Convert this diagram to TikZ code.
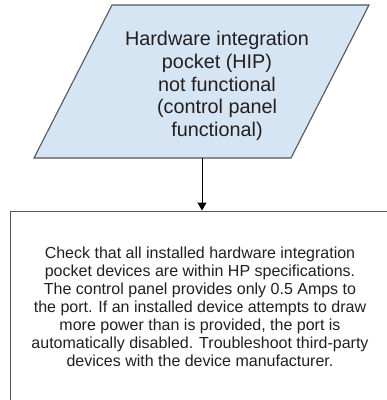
\documentclass[tikz,border=0pt]{standalone}
\usepackage{fontspec}
\setmainfont{Liberation Sans}
\usepackage{xcolor}
\usetikzlibrary{
  arrows.meta,
  positioning,
  calc
}
\definecolor{hipblue}{RGB}{214,229,244}
\definecolor{edgegray}{RGB}{85,85,85}
\definecolor{textgray}{RGB}{35,31,32}
\tikzset{
  inputbox/.style={
    draw=edgegray, fill=hipblue, line width=1.1pt, line join=miter
  },
  actionbox/.style={
    rectangle, draw=edgegray, line width=0.9pt,
    minimum width=380pt, minimum height=192pt, inner sep=0pt,
    text centered, text=textgray,
    font=\fontsize{16}{18}\selectfont
  },
  hiptext/.style={
    align=center, text=textgray, font=\fontsize{19.8}{22.6}\selectfont
  },
  arrow/.style={-{Triangle[length=8pt,width=9pt]}, line width=0.9pt, black},
}
\begin{document}
\begin{tikzpicture}[x=1pt, y=1pt]
		\useasboundingbox (0,0) rectangle (387,-400);

		%% Input (parallelogram)
		\coordinate (hiptl) at (112,-5);
		\coordinate (hiptr) at (369,-5);
		\coordinate (hipbr) at (291,-158);
		\coordinate (hipbl) at (34,-158);
		\coordinate (hipout) at (202,-158);
		\draw[inputbox] (hiptl) -- (hiptr) -- (hipbr) -- (hipbl) -- cycle;
		\node[hiptext] (hip) at (217,-86)
		{Hardware integration\\pocket (HIP)\\not functional\\(control panel\\functional)};

		%% Action
		\node[actionbox, align=center] (chk) at (200,-307)
		{Check that all installed hardware integration\\
			pocket devices are within HP specifications.\\
			The control panel provides only 0.5 Amps to\\
			the port. If an installed device attempts to draw\\
			more power than is provided, the port is\\
			automatically disabled. Troubleshoot third-party\\
			devices with the device manufacturer.};

		%% Arrow
		\draw[arrow] (hipout) -- (hipout |- chk.north);

	\end{tikzpicture}
\end{document}
